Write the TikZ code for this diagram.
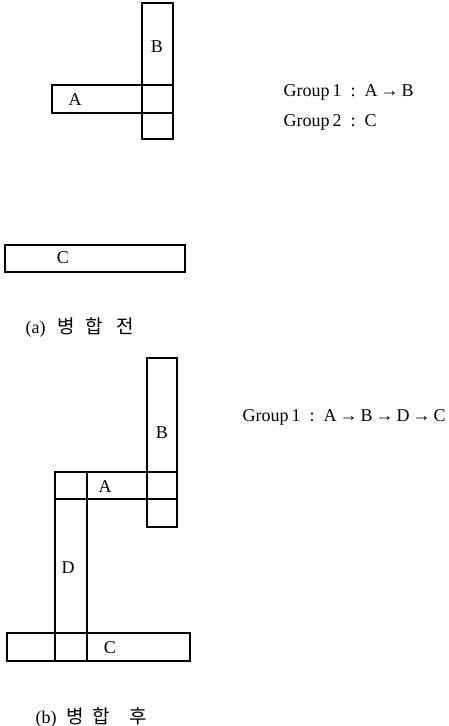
\documentclass[tikz,border=0pt]{standalone}
\usepackage{fontspec}
\setmainfont{Liberation Serif}
\newfontfamily\kofont{Noto Sans CJK KR}
\begin{document}
\begin{tikzpicture}[x=1pt, y=-1pt, line width=1.1pt, font=\fontsize{18}{20}\selectfont,
  lbl/.style={inner sep=0pt},
  grp/.style={anchor=west, inner sep=0pt},
  captext/.style={anchor=west, inner sep=0pt, font=\fontsize{18}{20}\selectfont}]
  \useasboundingbox (0,0) rectangle (449,726);
  % (a) before merging
  \draw (142,3) rectangle (173,139);
  \draw (52,85) rectangle (173,113);
  \draw (5,245) rectangle (185,272);
  \node[lbl] (aB) at (157,47) {B};
  \node[lbl] (aA) at (75,100) {A};
  \node[lbl] (aC) at (63,258) {C};
  \node[grp] (grpa1) at (283,92) {Group\,1\enspace:\enspace A\,→\,B};
  \node[grp] (grpa2) at (283,122) {Group\,2\enspace:\enspace C};
  \node[captext] (capa) at (25,327) {(a)\hspace{12pt}{\kofont\fontsize{19}{21}\selectfont 병\hspace{10pt}합\hspace{14pt}전}};
  % (b) after merging
  \draw (147,358) rectangle (177,527);
  \draw (55,472) rectangle (177,499);
  \draw (55,472) rectangle (87,661);
  \draw (7,633) rectangle (190,661);
  \node[lbl] (bB) at (162,433) {B};
  \node[lbl] (bA) at (105,487) {A};
  \node[lbl] (bD) at (68,568) {D};
  \node[lbl] (bC) at (110,648) {C};
  \node[grp] (grpb1) at (242,417) {Group\,1\enspace:\enspace A\,→\,B\,→\,D\,→\,C};
  \node[captext] (capb) at (35,717) {(b)\hspace{10pt}{\kofont\fontsize{19}{21}\selectfont 병\hspace{8pt}합\hspace{20pt}후}};
\end{tikzpicture}
\end{document}
